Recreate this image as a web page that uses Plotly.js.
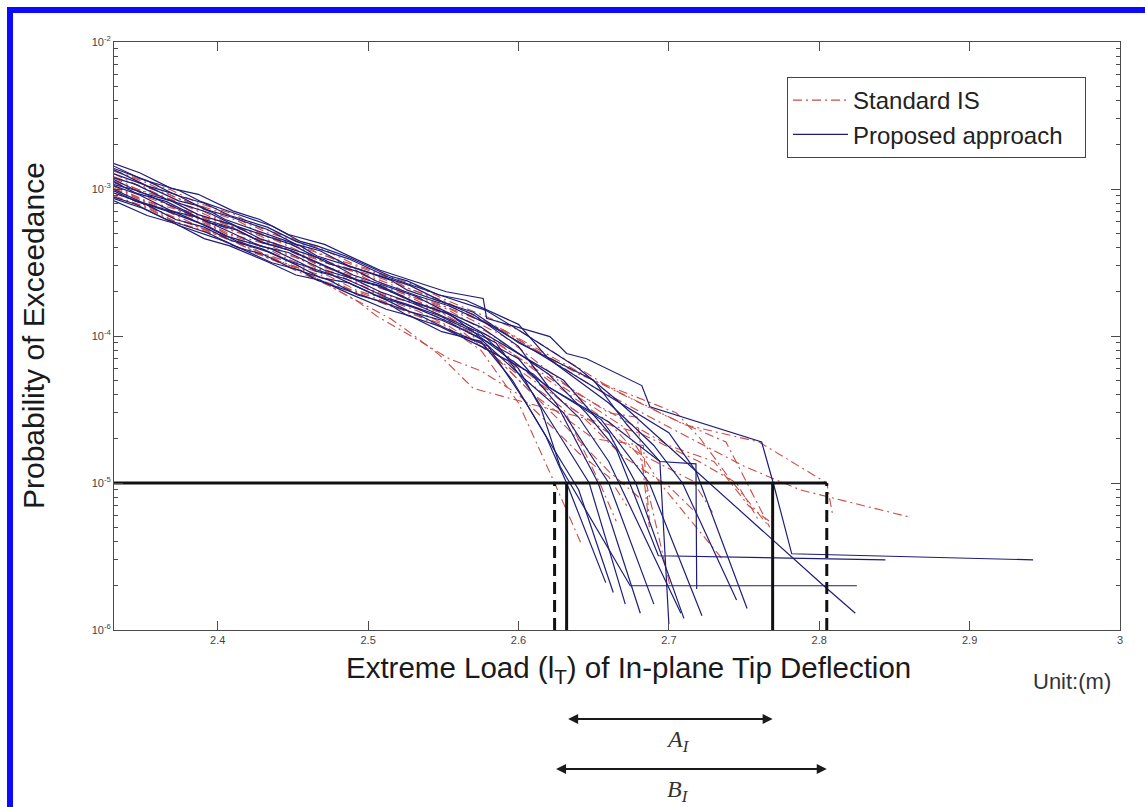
<!DOCTYPE html>
<html>
<head>
<meta charset="utf-8">
<script src="https://cdn.plot.ly/plotly-3.0.1.min.js"></script>
<style>
  html, body { margin: 0; padding: 0; background: #ffffff; }
  #wrap { position: relative; width: 1145px; height: 807px; overflow: hidden; background: #fff; }
  #frame { position: absolute; left: 7px; top: 7px; right: -20px; bottom: -20px;
           border-left: 6px solid #0a0aff; border-top: 6px solid #0a0aff; pointer-events: none; z-index: 5; }
  #chart { position: absolute; left: 0; top: 0; width: 1145px; height: 807px; }
</style>
</head>
<body>
<div id="wrap"><div id="chart"></div><div id="frame"></div></div>
<script>
// ---------------- data ----------------
const xAxisRange = [2.331, 3.0];
const xTicks = [2.4, 2.5, 2.6, 2.7, 2.8, 2.9, 3.0];
const yDecades = [1e-6, 1e-5, 1e-4, 1e-3, 1e-2];
const minorDigits = [2, 3, 4, 5, 6, 7, 8, 9];

// x positions of the sampled part of each curve (four sampling grids)
const gridA = [2.331, 2.348, 2.369, 2.387, 2.41, 2.428, 2.447, 2.471, 2.49, 2.508, 2.531, 2.552];
const gridB = [2.331, 2.353, 2.372, 2.391, 2.408, 2.433, 2.452, 2.468, 2.487, 2.512, 2.528, 2.549];
const gridC = [2.331, 2.345, 2.366, 2.394, 2.413, 2.43, 2.449, 2.474, 2.493, 2.506, 2.533, 2.554];
const gridD = [2.331, 2.35, 2.374, 2.389, 2.405, 2.436, 2.455, 2.466, 2.485, 2.515, 2.526, 2.547];

// Proposed approach (blue, solid)
const blueGrid = ['A','B','C','D','A','B','C','D','A','B','C','D','A','B','C','D'];
const blueBandY = [
  [1.49e-3, 1.29e-3, 1.01e-3, 9.2e-4, 7.1e-4, 6.2e-4, 4.9e-4, 4.2e-4, 3.4e-4, 2.8e-4, 2.35e-4, 2.0e-4],
  [8.3e-4, 6.6e-4, 5.8e-4, 4.6e-4, 4.1e-4, 3.2e-4, 2.6e-4, 2.4e-4, 1.95e-4, 1.52e-4, 1.37e-4, 1.07e-4],
  [8.8e-4, 7.9e-4, 6.2e-4, 5.0e-4, 4.0e-4, 3.6e-4, 2.9e-4, 2.4e-4, 1.9e-4, 1.75e-4, 1.4e-4, 1.1e-4],
  [9.9e-4, 8.1e-4, 6.8e-4, 5.8e-4, 4.8e-4, 3.9e-4, 3.15e-4, 2.75e-4, 2.45e-4, 1.78e-4, 1.64e-4, 1.38e-4],
  [1.05e-3, 9.1e-4, 7.1e-4, 6.4e-4, 5.0e-4, 4.1e-4, 3.7e-4, 2.8e-4, 2.45e-4, 2.0e-4, 1.65e-4, 1.33e-4],
  [9.4e-4, 7.8e-4, 6.2e-4, 5.5e-4, 4.5e-4, 3.75e-4, 3.06e-4, 2.5e-4, 2.3e-4, 1.76e-4, 1.46e-4, 1.28e-4],
  [1.12e-3, 9.4e-4, 8.2e-4, 5.9e-4, 5.25e-4, 4.3e-4, 3.8e-4, 2.94e-4, 2.4e-4, 2.2e-4, 1.65e-4, 1.41e-4],
  [1.27e-3, 1.08e-3, 8.3e-4, 7.6e-4, 6.2e-4, 4.8e-4, 4.1e-4, 3.5e-4, 3.05e-4, 2.4e-4, 2.05e-4, 1.73e-4],
  [1.16e-3, 9.5e-4, 8.3e-4, 6.7e-4, 5.7e-4, 4.6e-4, 3.96e-4, 3.3e-4, 2.6e-4, 2.26e-4, 1.87e-4, 1.46e-4],
  [1.38e-3, 1.14e-3, 9.1e-4, 8.0e-4, 6.6e-4, 5.5e-4, 4.4e-4, 3.9e-4, 3.35e-4, 2.55e-4, 2.23e-4, 1.88e-4],
  [1.19e-3, 1.08e-3, 8.5e-4, 6.9e-4, 5.55e-4, 4.85e-4, 4.2e-4, 3.1e-4, 2.75e-4, 2.35e-4, 1.87e-4, 1.6e-4],
  [8.6e-4, 7.4e-4, 5.65e-4, 5.0e-4, 4.4e-4, 3.15e-4, 2.8e-4, 2.4e-4, 2.07e-4, 1.62e-4, 1.38e-4, 1.17e-4],
  [1.07e-3, 9.65e-4, 7.7e-4, 6.35e-4, 5.45e-4, 4.4e-4, 3.85e-4, 3.0e-4, 2.45e-4, 2.2e-4, 1.7e-4, 1.43e-4],
  [1.35e-3, 1.05e-3, 9.2e-4, 7.3e-4, 6.5e-4, 5.3e-4, 4.2e-4, 3.8e-4, 3.0e-4, 2.48e-4, 2.2e-4, 1.72e-4],
  [9.7e-4, 8.3e-4, 7.1e-4, 5.55e-4, 4.4e-4, 3.9e-4, 3.2e-4, 2.65e-4, 2.16e-4, 1.87e-4, 1.53e-4, 1.24e-4],
  [1.43e-3, 1.16e-3, 9.8e-4, 8.2e-4, 7.2e-4, 5.6e-4, 4.4e-4, 4.1e-4, 3.5e-4, 2.55e-4, 2.37e-4, 1.9e-4]
];
const blueTailX = [
  [2.5765, 2.5788, 2.6209, 2.632, 2.6453, 2.682, 2.6874, 2.7617, 2.770, 2.7817, 2.9422],
  [2.575, 2.596, 2.618, 2.632, 2.658],
  [2.58, 2.605, 2.625, 2.640, 2.663],
  [2.585, 2.61, 2.63, 2.647, 2.671],
  [2.575, 2.60, 2.615, 2.6276, 2.6743, 2.825],
  [2.572, 2.60, 2.625, 2.653, 2.681],
  [2.59, 2.62, 2.66, 2.694, 2.700],
  [2.57, 2.60, 2.65, 2.672, 2.694, 2.718, 2.7185],
  [2.575, 2.62, 2.645, 2.665, 2.693, 2.844],
  [2.578, 2.60, 2.64, 2.665, 2.803, 2.824],
  [2.58, 2.61, 2.65, 2.70, 2.718, 2.752],
  [2.575, 2.61, 2.64, 2.66, 2.708],
  [2.58, 2.63, 2.66, 2.678, 2.71],
  [2.57, 2.60, 2.62, 2.655, 2.672, 2.687, 2.722],
  [2.575, 2.605, 2.63, 2.66, 2.69],
  [2.565, 2.60, 2.62, 2.66, 2.69, 2.709, 2.745]
];
const blueTailY = [
  [1.8e-4, 1.32e-4, 9.9e-5, 7.6e-5, 7.0e-5, 4.6e-5, 3.3e-5, 1.9e-5, 9.5e-6, 3.3e-6, 3.0e-6],
  [9.2e-5, 5.0e-5, 2.1e-5, 1.0e-5, 2.1e-6],
  [8.5e-5, 3.5e-5, 1.6e-5, 9.0e-6, 1.8e-6],
  [9.0e-5, 4.0e-5, 1.9e-5, 1.0e-5, 1.5e-6],
  [1.05e-4, 6.0e-5, 3.2e-5, 1.3e-5, 2.0e-6, 2.0e-6],
  [1.0e-4, 7.0e-5, 3.5e-5, 1.0e-5, 1.3e-6],
  [7.5e-5, 4.5e-5, 2.6e-5, 1.4e-5, 1.1e-6],
  [1.45e-4, 9.0e-5, 5.0e-5, 2.5e-5, 1.4e-5, 1.35e-5, 1.9e-6],
  [1.15e-4, 5.5e-5, 3.0e-5, 1.7e-5, 3.2e-6, 3.0e-6],
  [1.5e-4, 1.1e-4, 6.0e-5, 3.7e-5, 2.0e-6, 1.3e-6],
  [1.2e-4, 8.0e-5, 4.5e-5, 2.2e-5, 1.2e-5, 1.4e-6],
  [8.5e-5, 5.5e-5, 2.8e-5, 1.4e-5, 1.3e-6],
  [1.0e-4, 5.0e-5, 2.2e-5, 1.0e-5, 1.2e-6],
  [1.4e-4, 8.5e-5, 4.5e-5, 2.7e-5, 1.6e-5, 1.0e-5, 1.25e-6],
  [9.5e-5, 5.0e-5, 3.0e-5, 1.0e-5, 1.5e-6],
  [1.75e-4, 1.2e-4, 7.0e-5, 3.5e-5, 1.8e-5, 1.0e-5, 1.6e-6]
];

// Standard IS (red, dash-dot)
const redGrid = ['B','C','D','A','B','C','D','A','B','C','D','A','B','C','D','A'];
const redBandY = [
  [9.0e-4, 7.5e-4, 6.0e-4, 5.17e-4, 4.55e-4, 3.4e-4, 2.95e-4, 2.6e-4, 2.1e-4, 1.7e-4, 1.42e-4, 1.21e-4],
  [1.01e-3, 8.5e-4, 7.15e-4, 5.7e-4, 4.5e-4, 4.05e-4, 3.26e-4, 2.65e-4, 2.28e-4, 1.91e-4, 1.53e-4, 1.25e-4],
  [1.1e-3, 9.5e-4, 7.15e-4, 6.42e-4, 5.4e-4, 4.3e-4, 3.5e-4, 3.06e-4, 2.7e-4, 2.01e-4, 1.77e-4, 1.53e-4],
  [1.13e-3, 9.84e-4, 8.35e-4, 6.65e-4, 5.57e-4, 4.8e-4, 3.85e-4, 3.17e-4, 2.74e-4, 2.2e-4, 1.83e-4, 1.53e-4],
  [1.05e-3, 8.25e-4, 7.3e-4, 6.0e-4, 4.95e-4, 4.2e-4, 3.42e-4, 2.9e-4, 2.5e-4, 1.91e-4, 1.69e-4, 1.43e-4],
  [1.27e-3, 1.08e-3, 9.3e-4, 7.05e-4, 6.1e-4, 4.9e-4, 4.26e-4, 3.45e-4, 2.77e-4, 2.52e-4, 2.0e-4, 1.6e-4],
  [1.21e-3, 1.03e-3, 8.0e-4, 7.2e-4, 5.9e-4, 4.59e-4, 3.97e-4, 3.38e-4, 2.92e-4, 2.25e-4, 1.96e-4, 1.65e-4],
  [1.33e-3, 1.17e-3, 9.85e-4, 8.0e-4, 6.8e-4, 5.45e-4, 4.71e-4, 3.85e-4, 3.1e-4, 2.69e-4, 2.22e-4, 1.75e-4],
  [1.32e-3, 1.1e-3, 8.75e-4, 7.56e-4, 6.6e-4, 5.04e-4, 4.45e-4, 3.6e-4, 3.12e-4, 2.53e-4, 2.08e-4, 1.76e-4],
  [9.35e-4, 8.35e-4, 6.6e-4, 5.21e-4, 4.5e-4, 3.64e-4, 3.15e-4, 2.55e-4, 2.03e-4, 1.86e-4, 1.48e-4, 1.16e-4],
  [1.04e-3, 8.4e-4, 6.86e-4, 6.15e-4, 5.0e-4, 3.88e-4, 3.33e-4, 2.88e-4, 2.46e-4, 1.81e-4, 1.74e-4, 1.4e-4],
  [1.19e-3, 9.8e-4, 8.5e-4, 7.06e-4, 5.55e-4, 5.0e-4, 4.07e-4, 3.16e-4, 2.78e-4, 2.32e-4, 1.82e-4, 1.57e-4],
  [8.8e-4, 7.4e-4, 5.9e-4, 5.15e-4, 4.2e-4, 3.42e-4, 2.97e-4, 2.4e-4, 2.08e-4, 1.63e-4, 1.45e-4, 1.14e-4],
  [9.7e-4, 8.3e-4, 6.75e-4, 5.15e-4, 4.27e-4, 3.53e-4, 2.89e-4, 2.2e-4, 1.72e-4, 1.36e-4, 9.4e-5, 7.0e-5],
  [1.01e-3, 8.3e-4, 6.5e-4, 5.45e-4, 4.7e-4, 3.42e-4, 2.8e-4, 2.46e-4, 1.91e-4, 1.31e-4, 1.09e-4, 7.5e-5],
  [1.13e-3, 9.1e-4, 7.72e-4, 6.67e-4, 5.2e-4, 4.48e-4, 3.88e-4, 2.93e-4, 2.53e-4, 2.11e-4, 1.77e-4, 1.39e-4]
];
const redTailX = [
  [2.575, 2.60, 2.624, 2.642],
  [2.59, 2.63, 2.654, 2.665],
  [2.58, 2.62, 2.66, 2.681, 2.701],
  [2.58, 2.62, 2.66, 2.679, 2.687],
  [2.585, 2.63, 2.67, 2.694, 2.736],
  [2.585, 2.64, 2.705, 2.721, 2.741, 2.765],
  [2.59, 2.65, 2.70, 2.738, 2.767],
  [2.60, 2.66, 2.71, 2.76, 2.805, 2.809],
  [2.59, 2.65, 2.70, 2.75, 2.787, 2.859],
  [2.58, 2.61, 2.65, 2.683, 2.687],
  [2.585, 2.63, 2.68, 2.716, 2.729],
  [2.59, 2.64, 2.70, 2.73, 2.753, 2.77],
  [2.575, 2.60, 2.63, 2.66, 2.68],
  [2.575, 2.60, 2.64, 2.66, 2.672],
  [2.57, 2.62, 2.68, 2.72, 2.745, 2.76],
  [2.575, 2.61, 2.64, 2.67, 2.70, 2.72]
];
const redTailY = [
  [8.0e-5, 3.5e-5, 1.0e-5, 3.8e-6],
  [6.5e-5, 3.2e-5, 1.0e-5, 5.5e-6],
  [1.0e-4, 5.0e-5, 2.6e-5, 1.5e-5, 1.95e-6],
  [1.05e-4, 5.5e-5, 3.0e-5, 2.8e-5, 5.0e-6],
  [9.0e-5, 4.5e-5, 2.4e-5, 1.0e-5, 3.0e-6],
  [1.15e-4, 5.5e-5, 3.0e-5, 2.0e-5, 1.05e-5, 5.3e-6],
  [1.1e-4, 5.0e-5, 2.8e-5, 1.9e-5, 5.0e-6],
  [1.1e-4, 4.5e-5, 2.5e-5, 1.9e-5, 1.0e-5, 6.0e-6],
  [1.1e-4, 4.5e-5, 2.4e-5, 1.3e-5, 9.0e-6, 5.9e-6],
  [8.0e-5, 4.0e-5, 2.0e-5, 1.8e-5, 5.6e-6],
  [8.5e-5, 3.5e-5, 1.6e-5, 1.03e-5, 6.3e-6],
  [1.0e-4, 4.0e-5, 1.8e-5, 1.4e-5, 7.0e-6, 5.2e-6],
  [9.0e-5, 5.0e-5, 2.5e-5, 1.2e-5, 8.0e-6],
  [5.8e-5, 4.0e-5, 1.6e-5, 1.1e-5, 7.0e-6],
  [4.4e-5, 3.2e-5, 2.2e-5, 1.4e-5, 1.0e-5, 5.5e-6],
  [9.0e-5, 5.0e-5, 3.0e-5, 1.5e-5, 9.5e-6, 6.0e-6]
];

// target probability and the crossing loads that define the A_I and B_I ranges
const targetProb = 1e-5;
const proposedRange = [2.632, 2.769];   // A_I : solid markers
const standardRange = [2.624, 2.805];   // B_I : dashed markers

// ---------------- build traces ----------------
const grids = { A: gridA, B: gridB, C: gridC, D: gridD };
const traces = [];

redBandY.forEach((band, i) => {
  traces.push({
    type: 'scatter', mode: 'lines',
    x: grids[redGrid[i]].concat(redTailX[i]),
    y: band.concat(redTailY[i]),
    line: { color: 'rgb(200,78,72)', width: 1.1, dash: '9px,4px,2px,4px' },
    name: 'Standard IS', showlegend: i === 0, legendrank: 1,
    hoverinfo: 'skip'
  });
});
blueBandY.forEach((band, i) => {
  traces.push({
    type: 'scatter', mode: 'lines',
    x: grids[blueGrid[i]].concat(blueTailX[i]),
    y: band.concat(blueTailY[i]),
    line: { color: 'rgb(30,30,120)', width: 1.2 },
    name: 'Proposed approach\u2002\u2009', showlegend: i === 0, legendrank: 2,
    hoverinfo: 'skip'
  });
});

const black = '#111111';
// horizontal target line
traces.push({ type: 'scatter', mode: 'lines', x: [xAxisRange[0], standardRange[1]], y: [targetProb, targetProb],
  line: { color: black, width: 3 }, showlegend: false, hoverinfo: 'skip' });
// solid vertical markers (proposed)
proposedRange.forEach(v => traces.push({ type: 'scatter', mode: 'lines', x: [v, v], y: [yDecades[0], targetProb],
  line: { color: black, width: 3 }, showlegend: false, hoverinfo: 'skip' }));
// dashed vertical markers (standard IS)
standardRange.forEach(v => traces.push({ type: 'scatter', mode: 'lines', x: [v, v], y: [yDecades[0], targetProb],
  line: { color: black, width: 3, dash: '12px,6px' }, showlegend: false, hoverinfo: 'skip' }));
// empty trace that carries the minor-tick axis
traces.push({ type: 'scatter', mode: 'lines', x: [], y: [], yaxis: 'y2', showlegend: false, hoverinfo: 'skip' });

// ---------------- layout ----------------
const font = 'Liberation Sans, Arial, Helvetica, sans-serif';
const axisCommon = {
  showline: true, linecolor: '#4a4a4a', linewidth: 1, mirror: 'ticks',
  ticks: 'inside', ticklen: 9, tickcolor: '#4a4a4a', tickwidth: 1,
  showgrid: false, zeroline: false,
  tickfont: { family: font, size: 11, color: '#444' }
};

const minorVals = [];
yDecades.slice(0, -1).forEach(d => minorDigits.forEach(k => minorVals.push(d * k)));
const yLogRange = [Math.log10(yDecades[0]), Math.log10(yDecades[yDecades.length - 1])];

const arrowCommon = {
  xref: 'x', axref: 'x', yref: 'paper', ayref: 'pixel', ay: 0, text: '',
  showarrow: true, arrowside: 'end+start', arrowhead: 2, startarrowhead: 2,
  arrowsize: 1, startarrowsize: 1, arrowwidth: 2, arrowcolor: '#1a1a1a'
};

const layout = {
  width: 1145, height: 807,
  margin: { l: 114, r: 25, t: 42, b: 177 },
  paper_bgcolor: '#ffffff', plot_bgcolor: '#ffffff',
  font: { family: font, color: '#222' },
  showlegend: true,
  legend: {
    x: 0.669, y: 0.9405, xanchor: 'left', yanchor: 'top',
    bgcolor: '#ffffff', bordercolor: '#444', borderwidth: 1,
    font: { family: font, size: 24, color: '#222' },
    itemwidth: 55, tracegroupgap: 0
  },
  xaxis: Object.assign({}, axisCommon, {
    range: xAxisRange, tickmode: 'array', tickvals: xTicks,
    ticktext: xTicks.map(v => String(+v.toFixed(1)))
  }),
  yaxis: Object.assign({}, axisCommon, {
    type: 'log', range: yLogRange,
    tickmode: 'array', tickvals: yDecades,
    ticktext: yDecades.map(v => '10<sup>' + Math.round(Math.log10(v)) + '</sup>')
  }),
  yaxis2: {
    type: 'log', range: yLogRange, overlaying: 'y', anchor: 'x', side: 'left',
    tickmode: 'array', tickvals: minorVals, showticklabels: false,
    ticks: 'inside', ticklen: 4, tickcolor: '#4a4a4a', tickwidth: 1,
    showline: false, mirror: 'ticks', showgrid: false, zeroline: false
  },
  annotations: [
    { xref: 'paper', yref: 'paper', x: -0.0805, y: 0.5, xanchor: 'center', yanchor: 'middle',
      textangle: -90, showarrow: false,
      text: 'Probability of Exceedance', font: { family: font, size: 30, color: '#1a1a1a' } },
    { xref: 'paper', yref: 'paper', x: 0.5114, y: -0.068, xanchor: 'center', yanchor: 'middle', showarrow: false,
      text: 'Extreme Load (l<sub>T</sub>) of In-plane Tip Deflection', font: { family: font, size: 29.5, color: '#1a1a1a' } },
    { xref: 'paper', yref: 'paper', x: 0.952, y: -0.0884, xanchor: 'center', yanchor: 'middle', showarrow: false,
      text: 'Unit:(m)', font: { family: font, size: 22, color: '#333' } },
    Object.assign({}, arrowCommon, { x: proposedRange[1], ax: proposedRange[0], y: -0.1514 }),
    Object.assign({}, arrowCommon, { x: standardRange[1], ax: standardRange[0], y: -0.2364 }),
    { xref: 'paper', yref: 'paper', x: 0.561, y: -0.188, xanchor: 'center', yanchor: 'middle', showarrow: false,
      text: '<i>A<sub>I</sub></i>', font: { family: 'Liberation Serif, DejaVu Serif, serif', size: 24, color: '#333' } },
    { xref: 'paper', yref: 'paper', x: 0.561, y: -0.273, xanchor: 'center', yanchor: 'middle', showarrow: false,
      text: '<i>B<sub>I</sub></i>', font: { family: 'Liberation Serif, DejaVu Serif, serif', size: 24, color: '#333' } }
  ]
};

Plotly.newPlot('chart', traces, layout, { displayModeBar: false, staticPlot: true });
</script>
</body>
</html>
